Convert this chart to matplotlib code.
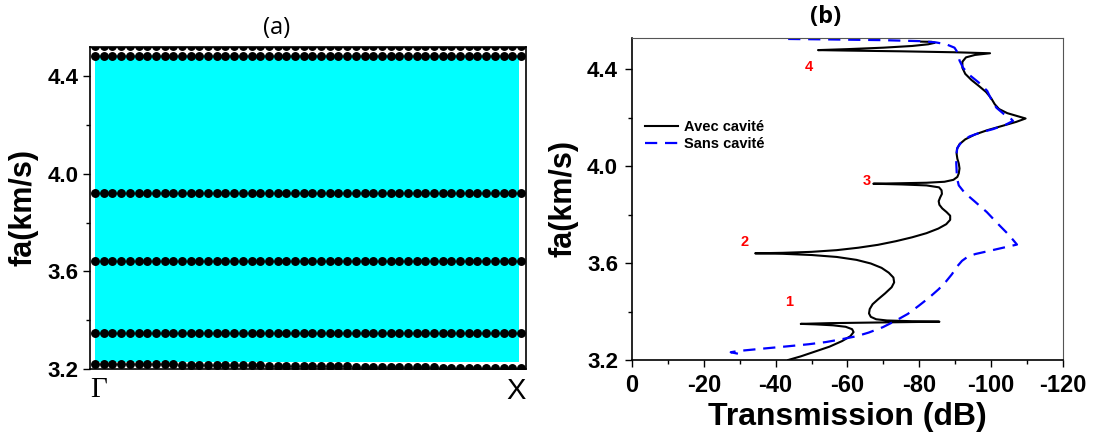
import numpy as np
import matplotlib
matplotlib.use("Agg")
import matplotlib.pyplot as plt
from matplotlib.ticker import MultipleLocator

plt.rcParams['font.family'] = ['Liberation Sans', 'DejaVu Sans']
plt.rcParams['font.weight'] = 'bold'

# ---- panel (a): band structure ----
n_k = 50
band_top = 4.524
band_rows = [4.484, 3.922, 3.641, 3.346]
band_bottom = [3.219] * 10 + [3.216] * 10 + [3.212] * 10 + [3.208] * 10 + [3.204] * 10
pass_lo, pass_hi = 3.229, 4.485
k_labels = ['Γ', 'X']

# ---- panel (b): transmission ----
avec_db = [-43.5, -47.0, -51.0, -55.0, -58.5, -60.8, -61.7, -61.3, -59.5, -56.0,
           -51.0, -47.0, -55.0, -70.0, -85.6, -78.0, -71.0, -68.0, -66.5, -66.0,
           -66.2, -67.0, -68.5, -70.5, -72.3, -73.0, -72.8, -71.5, -69.5, -66.5,
           -62.5, -57.0, -50.0, -42.0, -34.3, -42.0, -50.0, -57.0, -63.0, -68.5,
           -73.5, -78.0, -82.0, -85.3, -87.5, -88.6, -88.6, -87.6, -86.4, -85.6,
           -85.4, -85.8, -86.3, -86.2, -85.5, -82.0, -75.0, -67.2, -75.0, -82.0,
           -87.0, -89.5, -90.6, -91.0, -91.2, -91.0, -90.6, -90.4, -90.5, -91.2,
           -92.8, -95.5, -99.0, -103.0, -107.0, -109.6, -107.5, -104.5, -102.2, -101.0,
           -100.0, -98.6, -96.6, -94.5, -92.8, -92.0, -92.0, -93.0, -95.5, -99.7,
           -90.0, -75.0, -60.0, -51.8, -60.0, -70.0, -78.0, -82.5, -84.3, -83.5,
           -80.5]
avec_f = [3.200, 3.215, 3.235, 3.255, 3.278, 3.298, 3.315, 3.327, 3.337, 3.343,
          3.347, 3.349, 3.352, 3.355, 3.358, 3.360, 3.363, 3.368, 3.378, 3.392,
          3.410, 3.430, 3.450, 3.475, 3.500, 3.520, 3.540, 3.560, 3.580, 3.598,
          3.613, 3.625, 3.633, 3.638, 3.640, 3.642, 3.646, 3.653, 3.663, 3.675,
          3.690, 3.706, 3.723, 3.742, 3.760, 3.778, 3.795, 3.810, 3.825, 3.840,
          3.855, 3.870, 3.885, 3.900, 3.912, 3.920, 3.924, 3.927, 3.929, 3.931,
          3.935, 3.943, 3.955, 3.970, 3.990, 4.010, 4.030, 4.050, 4.070, 4.090,
          4.110, 4.130, 4.148, 4.165, 4.182, 4.196, 4.205, 4.218, 4.235, 4.255,
          4.280, 4.305, 4.330, 4.355, 4.380, 4.405, 4.430, 4.448, 4.458, 4.465,
          4.469, 4.473, 4.476, 4.478, 4.482, 4.488, 4.495, 4.502, 4.508, 4.512,
          4.513]

sans_db = [-29.5, -27.5, -29.5, -33.0, -37.2, -43.0, -49.2, -54.0, -58.5, -62.5,
           -65.9, -69.8, -73.3, -76.8, -79.8, -82.8, -85.4, -87.4, -89.1, -90.5,
           -91.9, -93.5, -95.6, -99.5, -103.9, -107.2, -105.0, -102.0, -98.8, -95.5,
           -92.6, -91.0, -90.5, -90.4, -90.3, -90.3, -90.6, -91.8, -94.0, -97.0,
           -100.5, -104.0, -106.1, -105.2, -103.5, -101.5, -100.2, -98.9, -96.5, -94.0,
           -92.2, -91.2, -90.8, -89.8, -87.5, -84.5, -80.0, -70.0, -55.0, -43.0]
sans_f = [3.226, 3.232, 3.237, 3.242, 3.248, 3.256, 3.265, 3.274, 3.286, 3.298,
          3.313, 3.335, 3.361, 3.390, 3.423, 3.458, 3.492, 3.523, 3.554, 3.585,
          3.609, 3.626, 3.637, 3.650, 3.665, 3.676, 3.715, 3.760, 3.810, 3.853,
          3.890, 3.920, 3.950, 3.980, 4.010, 4.045, 4.075, 4.100, 4.122, 4.138,
          4.152, 4.170, 4.186, 4.200, 4.215, 4.240, 4.270, 4.310, 4.345, 4.375,
          4.405, 4.435, 4.465, 4.488, 4.502, 4.510, 4.515, 4.519, 4.522, 4.524]

peak_labels = ['1', '2', '3', '4']
peak_db = [-43.7, -31.4, -65.5, -49.2]
peak_f = [3.439, 3.688, 3.940, 4.410]

fig = plt.figure(figsize=(10.93, 4.34), dpi=100)

# panel (a)
ax1 = fig.add_axes([0.0823, 0.1498, 0.3990, 0.7420])
k = np.linspace(0, 1, n_k)
ax1.fill_between([0, 0.995], pass_lo, pass_hi, color='#00ffff', lw=0, zorder=1)
dot = dict(ls='none', marker='o', ms=5.4, color='black', zorder=3)
ax1.plot(k, [band_top] * n_k, **dot)
for lvl in band_rows:
    ax1.plot(k, [lvl] * n_k, **dot)
ax1.plot(k, band_bottom, **dot)
ax1.set_xlim(-0.012, 1.012)
ax1.set_xticks([])
ax1.yaxis.set_major_locator(MultipleLocator(0.4))
ax1.yaxis.set_minor_locator(MultipleLocator(0.2))
ax1.tick_params(axis='y', which='major', direction='out', length=5, width=1, labelsize=16)
ax1.tick_params(axis='y', which='minor', direction='out', length=3, width=1)
ax1.set_ylim(3.2, 4.52)
ax1.set_yticks([3.2, 3.6, 4.0, 4.4])
ax1.set_yticklabels(['3.2', '3.6', '4.0', '4.4'], fontweight='bold')
for s in ax1.spines.values():
    s.set_linewidth(1.2)
ax1.text(0.0, -0.025, k_labels[0], transform=ax1.transAxes, ha='left', va='top',
         fontsize=21, family='Liberation Serif', fontweight='normal')
ax1.text(1.0, -0.025, k_labels[1], transform=ax1.transAxes, ha='right', va='top',
         fontsize=21, family='Liberation Sans', fontweight='normal')
ax1.set_ylabel('fa(km/s)', fontsize=22, fontweight='bold', labelpad=6)

# panel (b)
ax2 = fig.add_axes([0.5782, 0.1705, 0.3943, 0.7420])
ax2.plot(avec_db, avec_f, color='black', lw=1.5, label='Avec cavité')
ax2.plot(sans_db, sans_f, color='#0000ff', lw=1.6, ls=(0, (5.5, 3.5)), label='Sans cavité')
for lab, xd, yd in zip(peak_labels, peak_db, peak_f):
    ax2.text(xd, yd, lab, color='red', fontsize=10.5, fontweight='bold', ha='center', va='center')
ax2.xaxis.set_major_locator(MultipleLocator(20))
ax2.xaxis.set_minor_locator(MultipleLocator(10))
ax2.yaxis.set_minor_locator(MultipleLocator(0.2))
ax2.tick_params(which='major', direction='out', length=5, width=1, labelsize=17, pad=5)
ax2.tick_params(which='minor', direction='out', length=3, width=1)
ax2.set_xlim(0, -120)
ax2.set_ylim(3.2, 4.528)
ax2.set_xticks([0, -20, -40, -60, -80, -100, -120])
ax2.set_xticklabels(['0', '-20', '-40', '-60', '-80', '-100', '-120'], fontweight='bold')
ax2.set_yticks([3.2, 3.6, 4.0, 4.4])
ax2.set_yticklabels(['3.2', '3.6', '4.0', '4.4'], fontweight='bold', fontsize=16)
ax2.spines['top'].set_color('#555555')
ax2.spines['right'].set_color('#555555')
ax2.spines['left'].set_linewidth(1.2)
ax2.spines['bottom'].set_linewidth(1.2)
ax2.set_xlabel('Transmission (dB)', fontsize=23, fontweight='bold', labelpad=4)
ax2.set_ylabel('fa(km/s)', fontsize=22, fontweight='bold', labelpad=6)
ax2.legend(loc='upper left', bbox_to_anchor=(0.03, 0.746), frameon=False,
           prop={'size': 10.5, 'weight': 'bold'}, handlelength=2.3,
           handletextpad=0.4, labelspacing=0.25, borderpad=0, borderaxespad=0)

fig.text(277 / 1093, 1 - 28 / 434, '(a)', fontsize=17, family='Open Sans',
         fontweight='normal', ha='center', va='center')
fig.text(826 / 1093, 1 - 17 / 434, '(b)', fontsize=17, family='Open Sans',
         fontweight='bold', ha='center', va='center')

fig.savefig('out.png', dpi=100)
